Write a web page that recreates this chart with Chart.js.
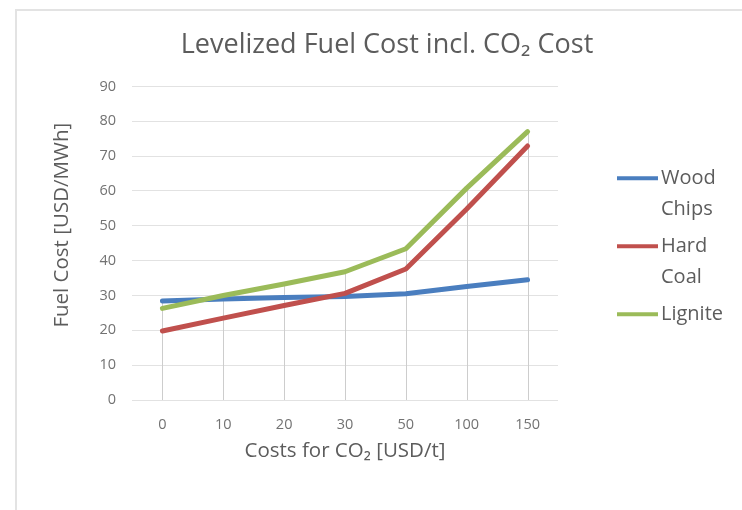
<!DOCTYPE html>
<html>
<head>
<meta charset="utf-8">
<script src="https://cdn.jsdelivr.net/npm/chart.js@4"></script>
<style>
  html, body { margin: 0; padding: 0; background: #ffffff; }
  #wrap { position: relative; width: 742px; height: 510px; overflow: hidden; }
  #frame { position: absolute; left: 15px; top: 9px; right: -4px; bottom: -4px;
           border-left: 2px solid #e3e3e3; border-top: 2px solid #e3e3e3; }
  #c { position: absolute; left: 0; top: 0; }
</style>
</head>
<body>
<div id="wrap">
  <div id="frame"></div>
  <canvas id="c" width="742" height="510"></canvas>
</div>
<script>
// CO2 price steps (USD/t) on the category axis
const categories = ['0', '10', '20', '30', '50', '100', '150'];

// Levelized fuel cost per fuel, USD/MWh
const woodChips = [28.4, 29.0, 29.4, 29.7, 30.5, 32.6, 34.5];
const hardCoal  = [19.8, 23.5, 27.1, 30.6, 37.6, 54.8, 72.9];
const lignite   = [26.3, 30.0, 33.3, 36.8, 43.4, 60.8, 77.0];

// Value axis ticks
const yTicks = [0, 10, 20, 30, 40, 50, 60, 70, 80, 90];

const seriesNames  = ['Wood Chips', 'Hard Coal', 'Lignite'];
const seriesColors = ['#4A7EBF', '#C0504D', '#9BBB59'];
const yAxisTitle   = 'Fuel Cost [USD/MWh]';

const FONT = "'Open Sans', 'Liberation Sans', sans-serif";
const TEXT = '#5c5c5c';
const TICK = '#727272';

// Vertical drop lines from the highest series value down to the axis
const dropLines = {
  id: 'dropLines',
  beforeDatasetsDraw(chart) {
    const { ctx, scales: { x, y } } = chart;
    const sets = chart.data.datasets;
    ctx.save();
    ctx.strokeStyle = '#cdcdcd';
    ctx.lineWidth = 1;
    chart.data.labels.forEach((_, i) => {
      const top = Math.max(...sets.map(d => d.data[i]));
      const px = Math.round(x.getPixelForValue(i)) + 0.5;
      ctx.beginPath();
      ctx.moveTo(px, y.getPixelForValue(top));
      ctx.lineTo(px, y.getPixelForValue(0));
      ctx.stroke();
    });
    ctx.restore();
  }
};

// Rotated value-axis title, sitting a little above the plot's mid-height
const valueAxisTitle = {
  id: 'valueAxisTitle',
  afterDraw(chart) {
    const { ctx, chartArea } = chart;
    ctx.save();
    ctx.translate(62, (chartArea.top + chartArea.bottom) / 2 - 18);
    ctx.rotate(-Math.PI / 2);
    ctx.font = '20.5px ' + FONT;
    ctx.fillStyle = TEXT;
    ctx.textAlign = 'center';
    ctx.textBaseline = 'middle';
    ctx.fillText(yAxisTitle, 0, 0);
    ctx.restore();
  }
};

// Legend on the right with labels wrapped onto two lines
const sideLegend = {
  id: 'sideLegend',
  afterDraw(chart) {
    const { ctx, chartArea } = chart;
    const lineH = 31, gap = 37;
    const x0 = chartArea.right + 59, x1 = x0 + 41, tx = x1 + 3;
    let y = (chartArea.top + chartArea.bottom) / 2 - 65;
    ctx.save();
    ctx.font = '20px ' + FONT;
    ctx.fillStyle = TEXT;
    ctx.textBaseline = 'middle';
    ctx.textAlign = 'left';
    chart.data.datasets.forEach(ds => {
      ctx.strokeStyle = ds.borderColor;
      ctx.lineWidth = 4;
      ctx.lineCap = 'butt';
      ctx.beginPath();
      ctx.moveTo(x0, y);
      ctx.lineTo(x1, y);
      ctx.stroke();
      const words = ds.label.split(' ');
      words.forEach((w, k) => {
        ctx.fillText(w, tx, y + k * lineH);
      });
      y += (words.length - 1) * lineH + gap;
    });
    ctx.restore();
  }
};

const seriesData = [woodChips, hardCoal, lignite];

new Chart(document.getElementById('c'), {
  type: 'line',
  data: {
    labels: categories,
    datasets: seriesData.map((d, i) => ({
      label: seriesNames[i],
      data: d,
      borderColor: seriesColors[i],
      backgroundColor: seriesColors[i],
      borderWidth: 5,
      borderCapStyle: 'round',
      borderJoinStyle: 'round',
      pointRadius: 0,
      tension: 0,
      order: 2 - i
    }))
  },
  options: {
    responsive: false,
    animation: false,
    layout: { padding: { left: 32, right: 0, top: 9, bottom: 0 } },
    plugins: {
      legend: { display: false },
      tooltip: { enabled: false },
      title: {
        display: true,
        text: 'Levelized Fuel Cost incl. CO\u2082 Cost',
        color: TEXT,
        font: { family: FONT, size: 27, weight: 'normal' },
        padding: { top: 20, bottom: 25 }
      }
    },
    scales: {
      x: {
        type: 'category',
        offset: true,
        grid: { display: false },
        border: { display: false },
        ticks: { color: TICK, font: { family: FONT, size: 14.5 }, padding: 8 },
        title: {
          display: true,
          text: 'Costs for CO\u2082 [USD/t]',
          color: TEXT,
          font: { family: FONT, size: 20.5 },
          padding: { top: 0, bottom: 47 }
        },
        afterFit(s) { s.height = 110; }
      },
      y: {
        min: 0,
        max: 90,
        afterBuildTicks(s) { s.ticks = yTicks.map(v => ({ value: v })); },
        grid: { color: '#e2e2e2', drawTicks: false },
        border: { display: false },
        ticks: { color: TICK, font: { family: FONT, size: 14.5 }, padding: 16 },
        title: { display: false },
        afterFit(s) { s.width = 100; }
      },
      legendSpace: {
        type: 'linear',
        position: 'right',
        display: true,
        grid: { display: false },
        border: { display: false },
        ticks: { display: false },
        afterFit(s) { s.width = 184; }
      }
    }
  },
  plugins: [dropLines, valueAxisTitle, sideLegend]
});
</script>
</body>
</html>
